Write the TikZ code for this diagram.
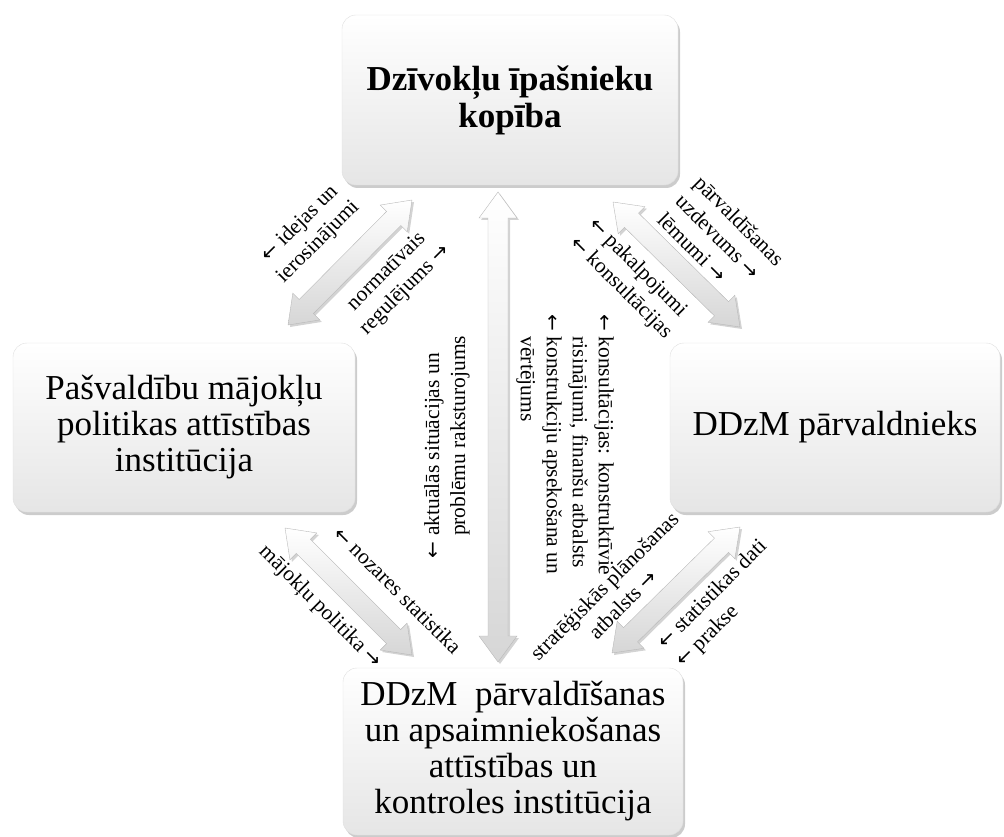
\documentclass[tikz,border=0pt]{standalone}
\usepackage{fontspec}
\setmainfont{Liberation Serif}
\newfontfamily\arrowfont{DejaVu Sans}
\newcommand{\toL}{{\arrowfont\fontsize{20}{20}\selectfont ←}}
\newcommand{\toR}{{\arrowfont\fontsize{20}{20}\selectfont →}}
\usetikzlibrary{calc,shadows}
\tikzstyle{box}=[rounded corners=14pt, draw=gray!25, top color=white, bottom color=gray!20, drop shadow={opacity=0.4, shadow xshift=2pt, shadow yshift=-3pt}, align=center, inner sep=0pt, font=\fontsize{35}{36}\selectfont]
\tikzstyle{lbl}=[inner sep=0pt, align=center, font=\fontsize{21.5}{26}\selectfont]
\tikzstyle{blockarr}=[draw=gray!55, top color=white, bottom color=gray!32, drop shadow={opacity=0.35, shadow xshift=2pt, shadow yshift=-2pt},
	to path={-- ($(\tikztostart)!26pt!(\tikztotarget)!19pt!90:(\tikztotarget)$)
		-- ($(\tikztostart)!26pt!(\tikztotarget)!10pt!90:(\tikztotarget)$)
		-- ($(\tikztotarget)!26pt!(\tikztostart)!10pt!-90:(\tikztostart)$)
		-- ($(\tikztotarget)!26pt!(\tikztostart)!19pt!-90:(\tikztostart)$)
		-- (\tikztotarget)
		-- ($(\tikztotarget)!26pt!(\tikztostart)!19pt!90:(\tikztostart)$)
		-- ($(\tikztotarget)!26pt!(\tikztostart)!10pt!90:(\tikztostart)$)
		-- ($(\tikztostart)!26pt!(\tikztotarget)!10pt!-90:(\tikztotarget)$)
		-- ($(\tikztostart)!26pt!(\tikztotarget)!19pt!-90:(\tikztotarget)$)
		-- cycle}]

\begin{document}
\begin{tikzpicture}[x=1pt,y=-1pt]
	\useasboundingbox(0,0)rectangle(1004,837);
	\node[box, minimum width=336pt, minimum height=170pt, font=\fontsize{35}{37}\selectfont\bfseries](kop)at(510,100){Dzīvokļu īpašnieku\\kopība};
	\node[box, minimum width=342pt, minimum height=169pt](pasv)at(184,427.5){Pašvaldību mājokļu\\politikas attīstības\\institūcija};
	\node[box, minimum width=330pt, minimum height=169pt](parv)at(835,427.5){DDzM pārvaldnieks};
	\node[box, minimum width=340pt, minimum height=167pt](inst)at(513,751.5){DDzM\ \ pārvaldīšanas\\un apsaimniekošanas\\attīstības un\\kontroles institūcija};
	\coordinate(kopsw)at(412,200);
	\coordinate(pasvne)at(288,325);
	\coordinate(kopse)at(613,202);
	\coordinate(parvnw)at(740,327);
	\coordinate(pasvse)at(285,528);
	\coordinate(instnw)at(412,655);
	\coordinate(parvsw)at(740,527);
	\coordinate(instne)at(612,653);
	\coordinate(kops)at(498,192);
	\coordinate(instn)at(498,662);
	\draw[blockarr](kopsw)to(pasvne);
	\draw[blockarr](kopse)to(parvnw);
	\draw[blockarr](pasvse)to(instnw);
	\draw[blockarr](parvsw)to(instne);
	\draw[blockarr](kops)to(instn);
	\node[lbl, rotate=45](idejas)at(309,233){\toL\ idejas un\\ierosinājumi};
	\node[lbl, rotate=45](normat)at(396,281){normatīvais\\regulējums \toR};
	\node[lbl, rotate=-45, align=left](uzdev)at(721,239){pārvaldīšanas\\uzdevums \toR\\lēmumi \toR};
	\node[lbl, rotate=-45, align=left](pakalp)at(630,279){\toL\ pakalpojumi\\\toL\ konsultācijas};
	\node[lbl, rotate=90, align=left](aktual)at(447,447){\toL\ aktuālās situācijas un\\\phantom{\toL\ }problēmu raksturojums};
	\node[lbl, rotate=-90, align=left](konsult)at(565,445){\toL\ konsultācijas: konstruktīvie\\\phantom{\toL\ }risinājumi, finanšu atbalsts\\\toL\ konstrukciju apsekošana un\\\phantom{\toL\ }vērtējums};
	\node[lbl, rotate=-45](majok)at(320,607){mājokļu politika \toR};
	\node[lbl, rotate=-45](nozar)at(398,590){\toL\ nozares statistika};
	\node[lbl, rotate=45](strat)at(613,595){stratēģiskās plānošanas\\atbalsts \toR};
	\node[lbl, rotate=45, align=left](statist)at(722,604){\toL\ statistikas dati\\\toL\ prakse};
\end{tikzpicture}
\end{document}
